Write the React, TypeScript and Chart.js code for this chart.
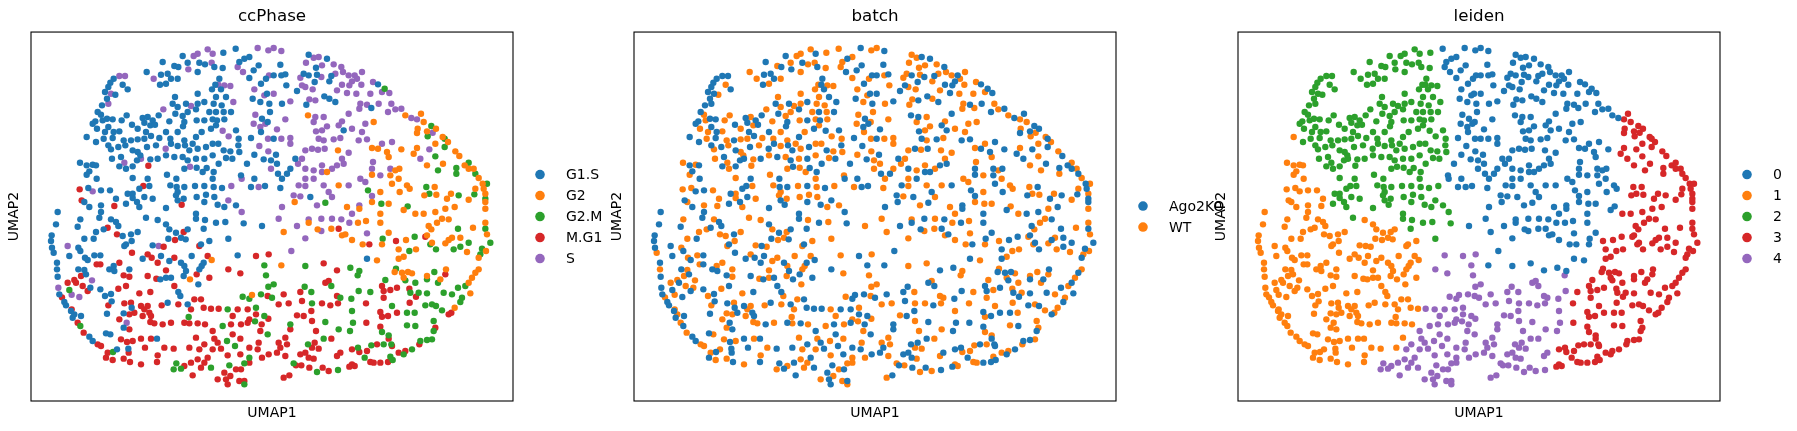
import { useEffect, useRef } from "react";
import { Chart, registerables, type Plugin } from "chart.js";

Chart.register(...registerables);
Chart.defaults.font.family = "'DejaVu Sans', sans-serif";

// [UMAP1, UMAP2, ccPhase index, batch index]
type Cell = [number, number, number, number];

const phaseNames = ["G1.S", "G2", "G2.M", "M.G1", "S"];
const batchNames = ["Ago2KO", "WT"];
const leidenNames = ["0", "1", "2", "3", "4"];
const tab10 = ["#1f77b4", "#ff7f0e", "#2ca02c", "#d62728", "#9467bd"];

const leiden0Cells: Cell[] = [
  [61.4,105.4,0,1],[68.0,105.6,4,0],[71.2,104.9,4,1],[64.0,102.4,0,0],[65.5,102.9,0,1],
  [62.5,101.4,0,1],[68.3,100.4,0,0],[62.0,99.9,4,1],[63.6,98.4,4,0],[66.8,98.9,0,0],
  [65.5,96.6,0,1],[69.0,94.9,0,0],[70.5,96.4,0,1],[71.4,97.4,4,0],
  [67.0,93.2,4,1],[70.8,91.9,0,0],[70.0,91.4,4,1],
  [66.5,90.4,0,0],[68.8,89.4,0,1],[71.5,88.9,0,0],[71.7,86.4,0,1],
  [67.3,85.6,4,1],[69.3,84.4,0,0],[71.0,83.4,0,1],[70.3,82.9,4,0],[66.8,82.9,4,1],[68.8,81.9,4,0],
  [66.0,78.6,0,0],[69.0,80.4,0,1],[71.1,78.4,4,1],[68.5,76.2,4,0],[71.2,74.6,4,1],
  [64.8,70.9,0,0],[67.0,73.6,0,1],[69.8,72.2,0,0],[72.0,71.9,0,1],
  [63.0,67.4,0,1],[63.2,66.4,4,0],[67.0,66.4,0,0],[72.0,69.4,4,1],
  [66.0,63.9,0,1],[68.3,63.9,4,0],[70.2,64.2,0,0],[69.3,52.2,0,1],
  [72.8,105.6,4,1],[75.1,104.7,4,0],[83.3,103.6,0,1],[84.8,102.7,4,1],[86.3,102.9,4,0],[88.8,102.4,0,0],
  [82.5,101.2,4,1],[74.8,100.6,0,0],[87.3,100.4,4,1],[90.8,100.7,4,1],[93.1,99.9,4,0],[85.5,99.7,0,1],
  [93.6,98.4,4,1],[72.8,97.4,0,0],[75.1,97.4,0,1],[76.3,97.7,0,0],[81.8,97.9,0,1],[83.3,97.4,0,0],
  [85.8,97.6,0,1],[87.1,96.9,4,0],[80.8,96.7,4,1],[90.1,97.2,0,0],[91.3,97.9,4,1],[95.3,97.4,4,1],
  [97.1,97.4,4,0],[99.3,98.4,4,1],[96.3,95.6,4,0],[97.8,96.4,4,1],[99.1,94.6,4,1],[95.5,94.4,4,0],
  [102.6,95.4,4,1],[104.1,94.7,0,0],[106.1,93.4,2,0],[105.3,92.4,4,1],[107.5,92.1,4,0],[76.6,94.4,0,1],
  [81.3,94.4,4,0],[82.3,93.9,4,1],[79.8,92.7,0,0],[84.5,93.2,4,1],[85.1,95.4,0,0],[89.5,95.6,0,1],
  [93.3,94.6,4,0],[91.8,92.9,4,1],[94.8,92.1,4,0],[97.6,91.9,4,1],[101.8,91.9,4,1],[72.8,91.9,4,0],
  [75.3,88.9,0,1],[77.8,89.6,4,0],[83.5,90.2,4,1],[88.0,91.1,0,0],[89.5,90.4,0,1],[91.3,89.4,0,0],
  [82.6,88.6,0,1],[85.3,89.9,4,0],[98.8,88.9,4,1],[100.8,88.6,4,0],[102.1,87.6,0,1],[98.5,87.4,4,1],
  [104.3,88.9,4,0],[108.1,88.9,4,1],[111.1,87.4,4,0],[109.3,87.2,4,1],[107.1,86.4,4,0],[112.3,85.4,1,1],[114.1,84.6,4,0],
  [76.3,84.2,4,1],[73.8,81.2,4,0],[75.1,78.4,4,1],[72.8,78.4,0,0],[77.8,78.6,4,1],[77.8,76.9,4,1],
  [73.5,73.6,0,0],[82.3,74.9,4,1],[84.3,75.4,4,0],[86.1,75.1,4,1],[88.1,75.4,4,0],[80.1,70.9,4,1],
  [79.3,72.4,0,0],[81.3,72.4,4,1],[82.3,69.4,4,0],[84.8,68.9,4,1],[87.3,70.4,4,1],[87.3,68.4,4,0],
  [90.3,69.4,4,1],[91.8,70.4,4,0],[93.3,72.4,4,1],[93.8,70.9,4,0],[95.3,74.2,4,1],[98.3,77.9,4,0],
  [99.3,80.4,4,1],[100.8,78.2,4,0],[100.3,82.9,4,1],[96.3,81.4,4,1],[95.3,85.9,4,0],[93.3,83.6,4,1],
  [92.3,82.4,4,0],[87.8,84.9,4,1],[85.3,84.9,4,0],[84.8,83.4,4,1],[85.5,80.6,4,0],[87.3,80.9,4,1],
  [88.8,82.1,4,1],[86.3,78.4,4,0],[87.8,77.9,4,1],[90.8,78.2,4,0],[92.8,78.6,4,1],[93.8,80.9,0,0],
  [105.3,76.9,4,1],[108.3,77.4,4,0],[102.6,71.4,4,1],[102.3,69.4,4,0],[104.8,67.4,4,1],[107.8,69.4,4,0],
  [98.8,66.4,4,1],[95.3,64.4,4,0],[100.3,65.4,4,1],[87.8,64.4,4,1],[89.3,62.4,4,0],[90.3,60.9,4,1],
  [84.8,66.4,4,0],[82.3,66.4,4,1],[80.3,64.4,4,0],[82.3,64.2,4,1],[78.8,61.4,4,0],[80.8,61.1,4,1],
  [75.3,57.9,4,0],[85.8,58.4,4,1],[98.5,58.4,4,0],[96.3,55.9,4,1],[102.3,61.2,4,0],[77.8,69.4,0,1],
  [76.8,67.9,0,0],[75.3,66.4,0,1],[74.1,67.9,0,0],[74.8,63.6,0,1],[83.8,60.9,0,0],[73.8,70.9,0,1],
  [111.1,75.2,1,0],[102.3,75.6,1,1],[104.1,75.4,1,0],[104.8,62.4,1,1],[102.3,67.6,1,0],[102.8,83.4,1,1],
  [83.1,85.4,1,0],[92.1,74.9,1,1],[88.8,68.4,1,0],[92.3,64.4,1,1],[79.1,59.4,1,0],[94.8,57.9,1,1],
  [98.5,57.4,1,0],[102.3,59.4,1,1],[104.8,55.9,1,0],[107.3,58.9,1,1],[101.1,62.9,2,0],[105.1,58.9,2,1],
  [88.3,59.2,2,0],[112.8,64.4,1,1],[110.6,62.4,1,0],[113.6,63.4,1,1],[108.3,64.9,1,0],[110.3,66.4,1,1],
  [110.5,69.4,1,0],[109.3,68.9,1,1],[107.8,67.4,1,0],[107.3,72.9,1,1],[106.8,74.4,1,0],[113.0,58.1,2,1],[111.8,57.0,1,0],
  [74.3,54.4,4,1],[79.8,52.2,4,0],[75.8,50.4,1,1],[78.1,44.7,4,0],[82.3,48.5,4,1],[83.3,53.2,1,0],
  [83.3,54.2,4,1],[87.1,54.4,4,0],[90.3,54.4,4,1],[93.1,54.2,4,0],[95.5,53.2,4,1],[86.0,51.2,1,0],
  [87.1,50.7,4,1],[90.1,51.4,1,1],[92.3,51.4,3,0],[93.3,49.4,1,1],[94.3,49.7,1,0],[96.3,48.0,1,1],
  [98.1,53.2,1,0],[100.5,53.7,1,1],[104.8,53.2,1,0],[100.8,50.0,4,1],[101.5,46.7,3,0],[99.5,46.7,1,1],
  [100.8,42.4,0,0],[103.8,41.9,1,1],[107.3,50.2,1,0],[105.3,46.7,1,1],[105.5,48.4,2,0],[82.3,40.2,2,1],
  [75.1,40.4,1,0],[87.8,41.0,3,1],[95.8,39.7,2,0],[98.5,38.7,2,1],[91.8,38.9,3,0],
];

const leiden1Cells: Cell[] = [
  [16.7,78.9,0,0],[14.7,71.2,0,1],[16.7,70.4,0,0],[18.5,70.6,0,1],[19.5,70.4,0,0],[17.5,68.6,0,0],
  [16.7,67.6,0,1],[19.7,66.4,0,0],[14.6,63.2,3,1],[18.5,62.6,4,0],[17.2,63.6,0,1],[21.0,62.9,0,0],
  [23.7,62.9,0,1],[15.2,59.9,3,0],[8.0,56.4,0,0],[16.0,59.4,0,1],[17.5,57.9,0,0],[21.0,58.4,0,1],
  [25.0,58.2,3,1],[21.0,56.4,0,0],[25.5,60.4,0,1],
  [7.5,52.7,0,0],[14.8,54.2,0,1],[20.5,54.7,0,0],[24.0,54.2,0,1],[25.5,53.4,0,0],[21.8,51.2,0,1],
  [23.0,51.7,3,0],[25.8,49.7,3,1],[26.2,52.2,0,0],[27.5,49.2,0,1],[30.0,49.7,0,0],[32.0,50.4,0,1],
  [30.2,47.7,0,1],[28.5,46.7,0,0],[38.0,54.0,0,1],[40.5,52.7,0,0],[41.5,51.2,0,1],[43.5,50.2,0,0],
  [45.8,50.4,3,1],[47.0,51.2,0,0],[45.0,48.7,0,1],[46.4,48.2,0,0],[43.2,48.0,3,1],[41.2,48.4,0,0],
  [53.5,47.7,0,1],[51.0,46.7,0,0],[50.5,46.2,3,1],
  [14.0,52.0,0,0],[19.5,50.4,0,1],[18.8,48.4,0,0],[16.0,48.4,0,1],[6.2,49.4,0,0],[6.0,47.7,0,0],
  [6.3,45.7,0,0],[6.8,44.2,0,1],[11.0,46.2,4,0],[14.2,45.7,0,1],[14.8,44.7,0,0],[16.2,42.7,0,1],
  [17.0,42.0,0,0],[19.0,43.4,0,1],[20.8,43.4,0,0],[19.7,40.7,3,1],[20.8,40.7,3,0],[26.5,41.2,3,1],
  [11.5,43.2,0,0],[7.8,41.2,0,0],[7.8,39.2,0,1],[14.2,39.2,0,0],[16.0,39.0,0,1],[16.5,37.7,0,0],
  [15.0,37.2,3,1],[23.5,39.2,0,0],[24.8,40.2,0,1],[25.0,38.7,0,0],[29.5,39.2,0,1],[27.8,37.4,3,0],
  [29.5,37.0,3,1],[30.3,44.2,3,0],[28.0,46.2,0,1],[33.5,42.4,0,0],[35.0,43.7,3,1],[36.2,42.7,3,0],
  [36.5,46.4,0,1],[38.3,46.2,4,0],[39.8,46.0,3,1],[39.0,43.2,0,0],[41.5,41.7,0,1],[38.0,41.2,3,0],
  [40.5,38.9,3,1],[38.8,36.2,0,0],[40.5,36.7,0,1],[42.0,36.7,0,0],[37.6,36.4,3,1],[35.0,37.2,3,0],
  [43.0,42.7,3,1],[45.0,41.2,0,0],[46.0,40.2,0,1],[46.5,38.7,0,0],[45.8,37.2,0,1],[47.7,36.2,1,0],
  [48.2,43.2,0,1],[49.7,37.7,3,0],[50.2,34.7,0,1],[53.5,36.7,3,0],[51.2,40.2,0,1],[51.8,41.2,0,0],
  [50.5,39.2,0,1],[54.2,42.0,1,0],[53.0,43.2,3,1],
  [44.2,32.4,0,0],[44.8,31.2,0,1],[43.0,34.2,3,0],[44.2,28.7,3,1],[47.0,28.7,0,0],[49.0,30.2,3,1],
  [51.0,30.2,3,0],[48.0,27.2,3,1],[51.8,27.7,3,0],[47.3,24.9,2,1],[46.0,23.2,3,0],[47.5,23.0,3,1],
  [50.0,23.0,3,0],[52.2,22.7,3,1],[54.0,27.4,3,0],
  [42.0,23.2,3,1],[39.5,22.7,3,0],[37.0,23.0,3,1],[35.5,26.2,3,0],[34.0,27.2,3,1],[33.0,28.2,3,0],
  [35.0,28.2,3,1],[36.0,25.2,3,0],[33.5,25.2,3,1],[31.0,26.2,3,0],[29.5,25.7,3,1],[28.0,29.0,3,0],
  [30.0,29.2,3,1],[30.2,27.7,0,0],[27.8,26.0,0,1],[28.7,23.2,4,0],[27.8,21.7,0,1],[29.5,21.2,3,0],
  [26.5,24.2,3,1],[22.8,25.9,0,0],[23.2,28.4,3,1],[24.2,29.6,0,0],[22.2,31.2,0,1],[24.0,31.8,0,0],
  [26.2,33.4,3,1],[28.5,34.2,3,0],[32.5,32.0,3,1],[35.8,32.4,3,0],[39.2,28.4,3,1],[41.0,29.2,0,0],
  [35.8,23.4,3,1],[37.8,18.4,0,0],[36.0,18.4,3,1],[33.0,18.4,3,0],[30.5,17.7,3,1],[28.8,17.4,3,0],
  [27.0,18.2,3,1],[34.2,15.7,3,0],[38.0,13.4,3,1],[37.8,11.4,3,0],[40.0,15.7,3,1],[42.8,15.4,3,0],
  [49.5,18.7,3,1],[47.5,15.7,3,0],[23.0,14.2,3,1],[22.5,12.7,3,0],[24.5,12.0,3,1],[24.6,14.4,2,0],
  [27.8,12.4,3,1],[29.7,11.4,3,0],[33.0,10.7,3,1],[29.3,14.2,3,0],[25.8,15.2,0,1],[29.2,15.4,0,0],
  [20.0,16.7,3,1],[22.5,20.0,0,0],[23.8,19.7,0,1],[17.5,19.0,0,0],[18.5,17.7,0,0],[21.0,16.2,3,1],
  [15.0,25.2,0,0],[14.0,23.2,3,1],[14.8,22.2,2,0],[15.8,20.2,3,1],[12.5,24.7,0,0],[12.0,26.7,0,0],
  [13.0,25.7,0,1],[10.0,29.4,0,0],[10.5,28.4,0,0],[12.2,27.2,3,1],[8.5,31.7,0,0],[8.0,37.0,0,0],
  [9.3,30.8,3,1],[11.5,33.0,2,0],[11.0,35.2,3,1],[8.2,33.7,4,0],[12.2,31.6,4,1],[14.5,30.9,4,0],
  [18.3,35.9,4,1],[13.5,35.2,3,0],[15.5,34.2,3,1],[17.0,32.7,3,0],[17.8,33.7,0,1],[20.8,33.2,0,0],[13.0,36.0,3,1],
];

const leiden2Cells: Cell[] = [
  [53.0,105.2,4,1],[54.5,103.9,4,0],[57.7,104.2,0,1],[45.5,103.2,0,0],[48.8,103.2,4,1],[50.0,103.9,4,1],
  [39.5,101.4,0,0],[43.0,100.2,0,1],[44.2,99.9,0,0],[47.0,101.2,0,1],[50.5,101.2,0,0],[52.2,100.7,0,1],
  [54.2,101.2,4,1],[55.0,99.9,0,0],[57.5,99.6,0,1],[47.2,99.2,4,0],[34.7,98.4,0,1],[41.0,97.9,0,0],
  [50.0,98.4,0,1],[44.0,96.4,0,1],[39.0,97.6,0,0],
  [26.5,97.2,4,0],[28.2,97.2,4,0],[24.8,96.4,0,0],[23.8,95.2,0,0],[27.5,94.6,0,1],[42.0,96.4,0,0],
  [36.8,96.4,4,1],[40.5,94.9,0,1],[38.7,94.6,0,0],[55.3,94.6,0,1],[56.2,94.6,4,0],[58.0,94.4,4,1],
  [59.8,94.2,4,1],[56.5,96.4,0,0],
  [23.2,93.9,0,0],[22.2,92.4,0,0],[24.0,91.9,4,0],[25.3,91.6,0,1],[29.0,93.2,0,0],[22.8,90.4,0,0],
  [54.3,93.2,0,1],[57.0,93.2,0,0],[43.2,90.9,0,1],[58.5,90.9,0,0],[55.5,90.9,0,1],[50.0,91.9,0,1],
  [23.2,88.9,4,0],[21.3,88.4,0,0],[42.5,88.9,0,0],[44.0,87.9,0,1],[48.0,88.2,4,1],[46.5,88.9,0,0],
  [50.0,88.9,0,1],[52.0,89.4,0,0],[54.8,88.9,0,1],[57.2,88.4,0,1],[60.7,89.4,4,0],[39.7,87.2,4,1],
  [38.3,85.4,0,0],[47.0,86.4,0,1],[49.5,87.2,0,0],[53.5,86.4,0,1],[55.5,86.4,0,0],[57.8,86.4,0,1],
  [60.0,86.4,0,0],[20.0,86.4,0,0],[21.0,85.6,0,1],[22.8,84.4,0,0],[19.3,83.6,0,0],[21.5,83.9,0,1],
  [24.5,84.2,0,0],[27.2,83.9,0,1],[28.7,85.4,0,1],[33.5,84.6,0,0],[35.0,84.9,0,1],[36.5,83.9,0,0],
  [54.5,84.2,0,1],[55.8,83.9,0,0],[58.0,84.2,0,1],[52.0,83.9,0,0],[49.7,83.9,0,1],[46.0,83.4,0,0],
  [41.5,83.6,0,1],[43.3,85.9,0,0],[45.5,85.2,0,1],[34.0,83.2,0,0],[35.8,82.4,0,1],[37.2,82.6,0,0],
  [18.5,82.9,0,0],[19.8,81.4,0,1],[23.2,81.9,0,0],[26.5,80.6,0,1],[30.3,82.6,0,0],[32.0,81.4,0,1],
  [19.5,77.4,0,0],[22.2,80.4,0,1],[24.8,80.4,0,0],[21.8,78.4,0,1],[24.5,78.6,0,0],[27.8,77.9,0,1],
  [30.0,77.9,0,0],[32.0,78.2,0,1],[34.5,80.4,0,0],[34.0,78.4,0,1],[36.0,79.2,0,0],[38.5,78.6,0,1],
  [40.5,80.4,0,0],[41.8,78.4,0,1],[44.0,80.4,0,1],[45.6,82.1,0,0],[46.0,77.9,0,1],[49.5,78.9,0,0],
  [51.2,80.4,0,1],[54.0,81.4,0,0],[55.5,82.4,0,1],[57.5,80.8,4,0],[59.3,79.1,4,1],[61.5,80.9,0,0],[62.3,78.4,0,1],
  [23.2,76.4,0,0],[24.0,75.2,0,1],[26.2,75.9,0,0],[28.3,76.4,0,1],[30.5,74.9,0,0],[32.0,74.4,0,1],
  [34.8,75.9,0,0],[37.5,76.4,0,1],[42.0,76.9,0,0],[44.0,76.2,0,1],[46.2,76.4,0,0],[48.5,76.9,0,1],
  [47.5,74.9,0,0],[50.0,75.4,0,1],[52.5,75.9,0,0],[54.5,76.9,0,1],[56.2,76.9,0,1],[57.8,74.9,0,0],
  [59.8,74.6,0,1],[62.2,76.4,0,0],[62.5,74.4,0,1],[40.4,75.4,4,0],
  [24.3,72.4,0,1],[27.0,72.9,0,0],[32.8,73.4,0,1],[31.8,71.9,0,0],[35.8,72.2,0,1],[38.0,72.4,0,0],
  [40.5,73.4,0,1],[43.0,72.9,0,0],[45.5,72.9,0,1],[47.0,71.9,0,0],[49.5,72.4,0,1],[52.0,72.4,0,0],
  [54.5,73.4,0,1],[56.3,70.9,0,0],[58.5,72.6,0,1],[60.4,72.4,0,0],[28.0,71.2,4,1],[33.0,72.4,4,0],[35.2,70.3,3,1],
  [26.5,70.1,0,0],[28.5,69.4,0,1],[30.5,70.1,0,0],[30.5,66.6,0,1],[35.0,66.4,0,0],[40.8,67.6,0,1],
  [43.6,66.4,0,0],[46.0,69.4,0,1],[47.7,70.0,4,0],[49.7,69.7,0,1],[52.7,69.6,0,0],[51.5,68.4,0,1],
  [54.8,68.4,0,0],[54.5,66.4,0,1],
  [33.7,64.2,3,0],[35.5,64.2,0,1],[32.5,63.4,0,0],[30.5,61.9,0,1],[29.0,61.9,0,0],[41.8,64.4,0,1],
  [43.7,63.9,0,0],[44.0,62.4,0,1],[46.0,63.9,0,0],[49.2,64.2,0,1],[52.0,64.2,0,0],[54.8,63.9,0,1],
  [57.3,63.6,0,0],[60.1,64.2,4,1],
  [28.5,58.9,0,0],[30.5,60.6,0,1],[31.8,59.4,0,0],[32.5,57.9,0,1],[34.0,60.9,0,0],[36.5,60.4,0,1],
  [40.5,57.6,0,0],[43.5,61.4,0,1],[44.0,59.9,0,0],[45.8,60.4,0,1],[45.2,58.6,3,0],[49.7,60.9,0,1],
  [49.5,55.9,0,0],[52.5,61.6,0,1],[52.0,59.4,0,0],[55.0,60.9,0,1],[56.0,58.6,0,0],[58.0,57.9,0,1],
  [59.2,59.9,4,0],[61.5,58.4,0,1],[63.2,56.4,4,0],
  [34.5,54.7,0,1],[49.5,54.4,0,0],[52.2,54.0,0,1],[55.5,53.2,0,0],[58.3,53.4,0,1],[51.8,51.4,0,0],
  [59.2,48.4,0,1],[63.8,53.0,0,0],
];

const leiden3Cells: Cell[] = [
  [115.8,84.2,4,1],[117.0,85.9,1,0],[117.8,83.4,1,1],[120.1,82.2,2,0],[120.5,80.2,4,1],[118.8,80.6,1,0],
  [116.0,81.4,1,1],[115.8,80.1,1,0],[119.0,79.1,2,1],[121.5,81.4,1,0],[123.5,78.9,1,1],[124.1,78.4,2,0],
  [125.1,77.4,1,1],[124.1,75.9,2,0],[121.3,76.9,1,1],[119.5,75.2,4,0],[115.8,75.6,1,1],[114.8,73.9,1,0],
  [127.3,74.6,1,1],[128.5,73.2,1,0],[121.3,73.1,2,1],[116.8,72.4,4,0],[118.8,70.4,1,1],[123.6,70.9,1,0],
  [122.1,68.9,2,1],[127.6,69.6,2,0],[127.6,67.9,2,1],[130.1,70.4,1,0],[131.3,71.2,2,1],[131.3,69.4,1,0],
  [132.8,69.4,1,1],[133.3,67.9,2,0],[134.3,66.6,1,1],[135.5,64.9,1,0],[136.8,64.9,2,1],[135.8,63.4,1,0],
  [133.3,63.4,1,1],[133.0,61.7,2,0],[136.3,61.9,1,1],[136.3,60.4,2,0],[131.3,60.1,1,1],[136.3,59.4,1,0],
  [136.3,57.4,1,1],[128.3,61.4,2,0],[126.0,61.9,1,1],[124.8,60.4,1,0],[118.6,63.9,2,1],[118.0,61.4,1,0],
  [119.5,61.9,2,1],[121.1,63.9,1,0],[121.6,61.6,1,1],[127.1,57.9,1,0],[124.3,57.4,1,1],[121.3,56.4,1,0],
  [115.3,55.9,1,1],[117.8,55.9,1,0],
  [109.5,47.7,3,1],[112.5,48.0,1,0],[115.5,45.2,1,1],[110.3,45.2,1,0],[111.8,43.0,1,1],[110.3,42.4,1,0],
  [113.5,44.7,2,1],[115.1,49.0,2,0],[118.3,49.0,3,1],[118.8,49.4,1,0],[120.1,51.2,1,1],[119.3,52.2,1,0],
  [121.8,53.2,1,1],[120.3,47.2,1,0],[119.8,46.7,2,1],[121.5,45.2,2,0],[124.3,47.0,1,1],[125.3,48.0,1,0],
  [126.3,48.7,1,1],[128.8,48.7,1,0],[126.8,45.2,2,1],[131.3,47.2,2,0],[130.8,44.4,1,1],[128.8,46.0,2,0],
  [132.6,51.7,1,1],[128.1,51.4,2,0],[123.3,54.4,1,1],[125.3,54.2,1,0],[136.3,53.2,1,1],[136.3,51.4,2,0],
  [136.8,49.7,1,1],[137.8,47.2,2,0],[136.5,44.7,1,1],[135.3,45.4,2,0],[134.8,43.7,2,1],[134.3,42.7,1,0],
  [134.3,39.2,1,1],[133.3,38.2,1,0],[132.3,36.7,1,1],[131.3,35.2,1,0],[130.3,34.2,2,1],[131.8,32.0,1,0],
  [129.3,30.7,2,1],[128.8,29.4,2,0],[127.1,27.7,1,1],[128.1,33.7,2,0],[126.3,31.7,2,1],[123.8,32.2,2,0],
  [120.3,28.7,2,1],[121.5,28.2,2,0],[123.3,26.9,2,1],[125.3,25.7,3,0],[126.1,26.2,3,1],[118.8,32.0,2,0],
  [122.1,35.2,2,1],[122.8,36.2,1,0],[124.3,37.7,3,1],[124.5,39.2,1,0],[121.0,38.4,2,1],[118.8,36.2,2,0],
  [118.8,37.2,1,1],[113.1,38.4,1,0],[114.3,38.0,1,1],[111.3,38.2,1,0],[111.8,36.7,1,1],[112.3,35.9,2,0],
  [115.3,35.2,2,1],[113.8,32.2,2,0],[113.5,33.4,3,1],[115.5,31.0,3,0],[116.3,32.2,2,1],[118.3,28.4,2,0],
  [115.1,26.2,2,1],[112.8,26.2,2,0],[113.6,29.2,3,1],[109.1,38.4,1,0],[109.5,39.4,2,1],[109.8,33.7,3,0],
  [107.8,33.0,3,1],[105.8,32.7,3,0],[106.3,36.0,2,1],[105.3,34.2,3,0],[112.8,22.4,2,1],[115.3,22.2,2,0],
  [120.8,23.7,2,1],[120.8,20.7,2,0],[120.3,18.2,2,1],[118.8,18.0,2,0],[121.3,21.7,3,1],[116.8,17.7,2,0],
  [116.5,16.7,3,1],[114.3,15.2,2,0],[112.3,14.7,3,1],[111.8,13.7,2,0],[110.3,14.2,3,1],[108.1,16.7,2,0],
  [107.3,19.4,2,1],[107.3,18.4,3,0],[105.8,16.7,2,1],[108.3,16.2,3,0],[105.3,20.4,2,1],[104.8,22.0,3,0],
  [105.3,25.0,3,1],[107.1,25.2,3,0],[108.3,28.2,2,1],[109.8,26.2,3,0],[105.8,30.7,3,1],[104.8,26.4,3,0],
  [102.1,16.4,2,1],[103.8,16.7,3,0],[100.8,14.7,3,1],[100.1,12.7,2,0],[102.8,11.2,3,1],[104.8,11.2,3,0],
  [101.8,11.4,3,1],[107.1,11.4,3,0],[107.8,13.0,2,1],[108.5,12.0,2,0],[98.5,14.4,3,1],[96.3,15.2,3,0],
  [96.3,10.7,3,1],[95.5,10.0,3,0],[97.1,10.2,3,1],[98.1,15.7,2,0],[100.5,29.0,3,1],[100.6,23.2,3,0],[101.8,32.4,2,1],
];

const leiden4Cells: Cell[] = [
  [92.8,14.2,3,0],[91.8,13.2,3,1],[92.1,9.0,2,0],[89.3,8.7,3,1],[87.5,9.7,3,0],[85.8,8.4,2,1],
  [83.5,9.7,3,0],[81.1,10.4,3,1],[79.5,10.4,3,0],[78.8,11.0,2,1],[77.5,7.4,3,0],[75.8,6.7,3,1],
  [82.3,14.2,3,0],[84.3,15.7,3,1],[85.1,17.2,3,0],[86.3,15.4,3,1],[83.3,12.7,3,0],[84.8,12.4,3,1],
  [83.1,16.7,2,0],[85.5,20.7,3,1],[87.8,18.4,2,0],[90.1,18.4,3,1],[80.8,13.7,3,0],[76.8,16.7,3,1],
  [74.8,15.7,3,0],[74.3,17.2,3,1],[73.8,14.2,3,0],[76.3,13.2,3,1],[77.8,21.2,3,0],[76.3,18.7,3,1],
  [77.8,22.7,2,0],[79.8,25.4,3,1],[81.8,25.2,3,0],[84.3,23.7,3,1],[88.3,23.4,2,0],[92.3,21.2,2,1],
  [95.7,20.7,2,0],[92.1,29.0,3,1],[89.8,28.4,3,0],[87.3,29.0,3,1],[84.1,26.7,3,0],[84.3,29.0,2,1],
  [80.8,32.4,3,0],[84.1,32.4,2,1],[88.3,35.2,3,0],[89.3,35.7,3,1],[90.1,34.2,2,0],[92.8,30.7,2,1],
  [96.1,30.4,2,0],[91.8,31.2,3,1],[98.3,32.7,2,0],[96.3,26.7,2,1],[96.6,23.2,2,0],[98.0,37.4,2,1],
  [81.3,29.7,3,0],[72.8,34.7,2,1],[72.3,30.7,2,0],[77.3,29.0,3,1],[75.8,31.7,3,0],[74.3,28.7,3,1],
  [82.1,34.0,2,0],
  [62.0,43.4,0,1],[67.5,43.2,3,0],[71.3,43.7,3,1],[70.0,40.4,2,0],[70.5,37.4,2,1],[59.2,39.2,3,0],
  [62.8,38.0,3,1],[66.3,31.5,1,0],[63.5,31.0,2,1],[65.5,30.4,2,0],[71.0,31.2,3,1],[69.0,31.7,2,0],
  [71.2,34.0,2,1],[56.3,27.4,3,0],[59.0,27.2,2,1],[62.0,27.2,3,0],[60.5,25.2,3,1],[65.0,27.2,3,0],
  [65.5,24.2,3,1],[67.5,25.7,3,0],[67.5,27.7,2,1],[70.0,25.2,2,0],[71.2,24.4,3,1],[54.5,20.7,3,0],
  [57.5,22.2,2,1],[60.0,22.7,3,0],[63.0,22.7,3,1],[65.0,23.2,3,0],[67.2,23.6,2,1],[69.2,22.7,3,0],
  [68.8,20.7,3,1],[71.0,19.7,2,0],[55.0,18.4,3,1],[56.0,17.2,3,0],[54.5,15.2,3,1],[57.0,15.4,3,0],
  [58.8,17.7,2,1],[60.5,19.7,3,0],[62.8,18.4,3,1],[61.2,16.2,2,0],[59.0,13.4,3,1],[62.8,13.7,3,0],
  [65.5,12.7,2,1],[65.5,15.7,3,0],[68.3,17.2,3,1],[68.0,15.2,3,0],[69.3,12.7,3,1],[71.3,13.7,3,0],
  [64.0,11.0,2,1],[63.0,9.2,3,0],[65.5,11.2,3,1],[59.5,10.4,2,0],[61.5,9.2,3,1],[58.0,8.2,3,0],
  [56.0,6.2,3,1],[58.5,6.2,3,0],[59.8,7.2,3,1],[59.0,4.7,3,0],[62.5,5.7,3,1],[64.0,5.7,3,0],
  [64.0,4.7,2,1],[54.0,9.7,2,0],[52.0,11.2,3,1],[53.0,12.7,3,0],[50.0,12.2,3,1],[48.0,11.2,3,0],
  [46.0,10.2,3,1],[48.5,7.4,3,0],[51.0,9.7,3,1],[43.6,11.0,2,0],[42.8,9.2,2,1],[45.0,9.4,2,0],
  [50.5,15.2,3,1],[52.0,16.7,3,0],
];

const clusters: Cell[][] = [leiden0Cells, leiden1Cells, leiden2Cells, leiden3Cells, leiden4Cells];

type Panel = { title: string; names: string[]; pick: (cell: Cell, cluster: number) => number };

const panels: Panel[] = [
  { title: "ccPhase", names: phaseNames, pick: (c) => c[2] },
  { title: "batch", names: batchNames, pick: (c) => c[3] },
  { title: "leiden", names: leidenNames, pick: (_c, k) => k },
];

const panelLefts = [0, 603, 1207];

// matplotlib-like frame and right-side legend
const frameLegend: Plugin<"scatter"> = {
  id: "frameLegend",
  afterDraw(chart) {
    const { ctx, chartArea } = chart;
    ctx.save();
    ctx.strokeStyle = "#000";
    ctx.lineWidth = 1.1;
    ctx.strokeRect(chartArea.left, chartArea.top, chartArea.width, chartArea.height);

    const items = chart.data.datasets;
    const gap = 21;
    const mid = (chartArea.top + chartArea.bottom) / 2;
    const first = mid - ((items.length - 1) * gap) / 2;
    ctx.font = "14px 'DejaVu Sans'";
    ctx.textBaseline = "middle";
    items.forEach((ds, i) => {
      const y = first + i * gap;
      ctx.beginPath();
      ctx.arc(chartArea.right + 27, y, 4.8, 0, Math.PI * 2);
      ctx.fillStyle = ds.backgroundColor as string;
      ctx.fill();
      ctx.fillStyle = "#000";
      ctx.fillText(String(ds.label), chartArea.right + 53, y + 1);
    });
    ctx.restore();
  },
};

function UmapPanel({ panel, left }: { panel: Panel; left: number }) {
  const canvasRef = useRef<HTMLCanvasElement | null>(null);

  useEffect(() => {
    if (!canvasRef.current) return;
    const datasets = panel.names.map((name, idx) => ({
      label: name,
      data: clusters.flatMap((cells, k) =>
        cells.filter((c) => panel.pick(c, k) === idx).map((c) => ({ x: c[0], y: c[1] })),
      ),
      backgroundColor: tab10[idx],
      borderWidth: 0,
      pointRadius: 3.2,
    }));

    const chart = new Chart(canvasRef.current, {
      type: "scatter",
      data: { datasets },
      options: {
        animation: false,
        responsive: false,
        events: [],
        layout: { padding: { left: 4.2, right: 127, top: 0, bottom: 5.2 } },
        plugins: {
          legend: { display: false },
          tooltip: { enabled: false },
          title: {
            display: true,
            text: panel.title,
            fullSize: false,
            color: "#000",
            font: { size: 16.7, weight: "normal" },
            padding: { top: 7, bottom: 5 },
          },
        },
        scales: {
          x: {
            type: "linear",
            min: 0,
            max: 144.6,
            ticks: { display: false },
            grid: { display: false, drawTicks: false },
            border: { display: false },
            title: { display: true, text: "UMAP1", color: "#000", font: { size: 14 }, padding: { top: 4, bottom: 4 } },
          },
          y: {
            type: "linear",
            min: -0.3,
            max: 110.4,
            ticks: { display: false },
            grid: { display: false, drawTicks: false },
            border: { display: false },
            title: { display: true, text: "UMAP2", color: "#000", font: { size: 14 }, padding: { top: 2, bottom: 8 } },
          },
        },
      },
      plugins: [frameLegend],
    });

    return () => chart.destroy();
  }, [panel]);

  return (
    <canvas
      ref={canvasRef}
      width={640}
      height={431}
      style={{ position: "absolute", left, top: 0, width: 640, height: 431 }}
    />
  );
}

export default function App() {
  return (
    <div
      style={{
        position: "absolute",
        left: 0,
        top: 0,
        width: 1797,
        height: 431,
        overflow: "hidden",
        background: "#fff",
      }}
    >
      {panels.map((p, i) => (
        <UmapPanel key={p.title} panel={p} left={panelLefts[i]} />
      ))}
    </div>
  );
}
